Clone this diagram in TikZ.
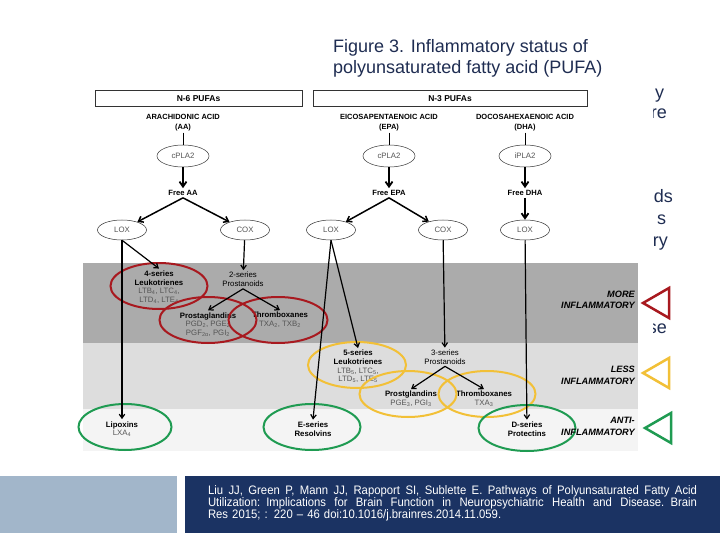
\documentclass[tikz,border=0pt]{standalone}
\usepackage{fontspec}
\setmainfont{Liberation Sans}
\newfontfamily\narrowfont{Liberation Sans}[FakeStretch=0.92]
\usetikzlibrary{shapes.geometric,arrows.meta}
\definecolor{navy}{RGB}{31,45,82}
\definecolor{ringred}{RGB}{168,25,31}
\definecolor{ringyel}{RGB}{242,192,55}
\definecolor{ringgrn}{RGB}{31,155,82}
\definecolor{banddark}{RGB}{171,171,171}
\definecolor{bandmid}{RGB}{221,221,221}
\definecolor{bandlight}{RGB}{244,244,244}
\definecolor{footlight}{RGB}{162,182,202}
\definecolor{footnavy}{RGB}{27,51,99}
\definecolor{txtgray}{RGB}{85,85,85}
\newcommand\refline[1]{\leavevmode\hbox to 489pt{\spaceskip=0.3em plus 1fil\relax #1}}
\tikzset{
  hdr/.style={draw=black!80, fill=white, line width=0.6pt, minimum height=16pt, inner sep=0pt, font=\bfseries\fontsize{8.5}{9}\selectfont},
  acid/.style={align=center, inner sep=1pt, font=\bfseries\fontsize{7.5}{10}\selectfont},
  enz/.style={ellipse, draw=black!80, line width=0.5pt, minimum width=52pt, minimum height=22pt, inner sep=0pt, text=txtgray, font=\fontsize{7.8}{8}\selectfont},
  oxy/.style={enz, minimum width=49pt, minimum height=20pt},
  freelbl/.style={inner sep=2pt, font=\bfseries\fontsize{7.6}{8}\selectfont},
  prod/.style={align=center, inner sep=2pt, font=\fontsize{7.8}{8.6}\selectfont},
  ring/.style={ellipse, draw, line width=2pt, minimum width=97pt, minimum height=46pt, inner sep=0pt},
  bandlbl/.style={align=right, anchor=east, inner sep=0pt, font=\bfseries\itshape\fontsize{9.2}{11.5}\selectfont},
  plainlink/.style={line width=1pt},
  bigarrow/.style={-{Straight Barb[length=5pt,width=7pt]}, line width=1.8pt},
  midarrow/.style={-{Straight Barb[length=4.5pt,width=6.5pt]}, line width=1.5pt},
  thinarrow/.style={-{Straight Barb[length=4pt,width=5.5pt]}, line width=1.2pt},
  tri/.style={line width=2.5pt, line join=miter},
  ttl/.style={anchor=base west, inner sep=0pt, text=navy, font=\fontsize{18}{21}\selectfont},
}
\begin{document}
\begin{tikzpicture}[x=1pt,y=-1pt]
\useasboundingbox (0,0) rectangle (720,540);
\fill[white] (0,0) rectangle (720,540);

% clipped fragments of text hidden behind the figure
\begin{scope}
\clip (653,70) rectangle (720,460);
\node[ttl, anchor=base west] (fy) at (655,99) {y};
\node[ttl, anchor=base east] (fre) at (667,119) {re};
\node[ttl, anchor=base east] (fds) at (673,203) {ds};
\node[ttl, anchor=base west] (fs) at (657,225) {s};
\node[ttl, anchor=base east] (fry) at (668,247) {ry};
\node[ttl, anchor=base east] (fse) at (667,333) {se};
\end{scope}

% title
\node[ttl] (title1) at (333,53) {Figure 3. Inflammatory status of};
\node[ttl] (title2) at (333,74) {polyunsaturated fatty acid (PUFA)};

% bands
\fill[banddark] (83,263) rectangle (638,343);
\fill[bandmid] (83,343) rectangle (638,409);
\fill[bandlight] (83,409) rectangle (638,451);

% headers
\node[hdr, minimum width=207pt] (n6) at (198.5,98.5) {N-6 PUFAs};
\node[hdr, minimum width=274pt] (n3) at (450,98.5) {N-3 PUFAs};

% acids
\node[acid] (aa) at (183,123) {ARACHIDONIC ACID\\(AA)};
\node[acid] (epa) at (389,123) {EICOSAPENTAENOIC ACID\\(EPA)};
\node[acid] (dha) at (525,123) {DOCOSAHEXAENOIC ACID\\(DHA)};

\node[enz] (cpla1) at (183,156) {cPLA2};
\node[enz] (cpla2) at (389,156) {cPLA2};
\node[enz] (ipla) at (525,156) {iPLA2};

\node[freelbl] (freeaa) at (183,193) {Free AA};
\node[freelbl] (freeepa) at (389,193) {Free EPA};
\node[freelbl] (freedha) at (525,193) {Free DHA};

\node[oxy] (lox1) at (122,230) {LOX};
\node[oxy] (cox1) at (245,230) {COX};
\node[oxy] (lox2) at (331,230) {LOX};
\node[oxy] (cox2) at (443,230) {COX};
\node[oxy] (lox3) at (525,230) {LOX};

% products, more inflammatory
\node[prod] (t4s) at (159,287) {\textbf{4-series}\\\textbf{Leukotrienes}\\\textcolor{txtgray}{LTB\textsubscript{4}, LTC\textsubscript{4},}\\\textcolor{txtgray}{LTD\textsubscript{4}, LTE\textsubscript{4}}};
\node[prod] (t2s) at (243,279.5) {2-series\\Prostanoids};
\node[prod] (tpg2) at (208,324.5) {\textbf{Prostaglandins}\\\textcolor{txtgray}{PGD\textsubscript{2}, PGE\textsubscript{2}}\\\textcolor{txtgray}{PGF\textsubscript{2α}, PGI\textsubscript{2}}};
\node[prod] (ttx2) at (280,320) {\textbf{Thromboxanes}\\\textcolor{txtgray}{TXA\textsubscript{2}, TXB\textsubscript{2}}};

% less inflammatory
\node[prod] (t5s) at (358,366.5) {\textbf{5-series}\\\textbf{Leukotrienes}\\\textcolor{txtgray}{LTB\textsubscript{5}, LTC\textsubscript{5},}\\\textcolor{txtgray}{LTD\textsubscript{5}, LTE\textsubscript{5}}};
\node[prod] (t3s) at (445,357) {3-series\\Prostanoids};
\node[prod] (tpg3) at (411,399) {\textbf{Prostglandins}\\\textcolor{txtgray}{PGE\textsubscript{3}, PGI\textsubscript{3}}};
\node[prod] (ttx3) at (484,399) {\textbf{Thromboxanes}\\\textcolor{txtgray}{TXA\textsubscript{3}}};

% anti-inflammatory
\node[prod] (tlx) at (122,429) {\textbf{Lipoxins}\\\textcolor{txtgray}{LXA\textsubscript{4}}};
\node[prod] (trs) at (313,429) {\textbf{E-series}\\\textbf{Resolvins}};
\node[prod] (tpd) at (527,429) {\textbf{D-series}\\\textbf{Protectins}};

% rings
\node[ring, draw=ringred] (r4s) at (159,286) {};
\node[ring, draw=ringred] (rpg2) at (208,320) {};
\node[ring, draw=ringred, minimum width=99pt] (rtx2) at (278,320) {};
\node[ring, draw=ringyel, minimum width=98pt] (r5s) at (357,365) {};
\node[ring, draw=ringyel] (rpg3) at (408,394) {};
\node[ring, draw=ringyel] (rtx3) at (487,394) {};
\node[ring, draw=ringgrn, minimum width=93pt] (rlx) at (125,427) {};
\node[ring, draw=ringgrn] (rrs) at (312,427) {};
\node[ring, draw=ringgrn] (rpd) at (527,428) {};

% band labels
\node[bandlbl] (more) at (635,300) {MORE\\INFLAMMATORY};
\node[bandlbl] (less) at (635,375.5) {LESS\\INFLAMMATORY};
\node[bandlbl] (anti) at (635,426.5) {ANTI-\\INFLAMMATORY};

% triangles
\draw[tri, ringred] (669,288) -- (643,303) -- (669,318) -- cycle;
\draw[tri, ringyel] (669,358) -- (643,373) -- (669,388) -- cycle;
\draw[tri, ringgrn] (671,413) -- (645,428) -- (671,443) -- cycle;

% connectors
\draw[plainlink] (aa) -- (cpla1);
\draw[plainlink] (epa) -- (cpla2);
\draw[plainlink] (dha) -- (ipla);
\draw[bigarrow] (cpla1) -- (freeaa);
\draw[bigarrow] (cpla2) -- (freeepa);
\draw[bigarrow] (ipla) -- (freedha);
\draw[midarrow] (freeaa.south) -- (lox1);
\draw[midarrow] (freeaa.south) -- (cox1);
\draw[midarrow] (freeepa.south) -- (lox2);
\draw[midarrow] (freeepa.south) -- (cox2);
\draw[bigarrow] (freedha) -- (lox3);

\draw[thinarrow] (lox1) -- (tlx);
\draw[thinarrow] (lox1.south) -- (t4s.north);
\draw[thinarrow] (cox1) -- (t2s);
\draw[thinarrow] (t2s.south) -- (tpg2.north);
\draw[thinarrow] (t2s.south) -- (ttx2.north);
\draw[thinarrow] (lox2.south) -- (t5s.north);
\draw[thinarrow] (lox2.south) -- (trs.north);
\draw[thinarrow] (cox2) -- (t3s);
\draw[thinarrow] (t3s.south) -- (tpg3.north);
\draw[thinarrow] (t3s.south) -- (ttx3.north);
\draw[thinarrow] (lox3) -- (tpd);

% footer
\fill[footlight] (0,476) rectangle (177,533);
\fill[footnavy] (185,476) rectangle (720,533);
\node[text=white, inner sep=0pt, align=left, text width=489pt, font=\narrowfont\fontsize{12.3}{12}\selectfont] (ref) at (452.5,503) {\refline{Liu JJ, Green P, Mann JJ, Rapoport SI, Sublette E. Pathways of Polyunsaturated Fatty Acid}\\\refline{Utilization: Implications for Brain Function in Neuropsychiatric Health and Disease. Brain}\\Res 2015; : 220 – 46 doi:10.1016/j.brainres.2014.11.059.};
\end{tikzpicture}
\end{document}
